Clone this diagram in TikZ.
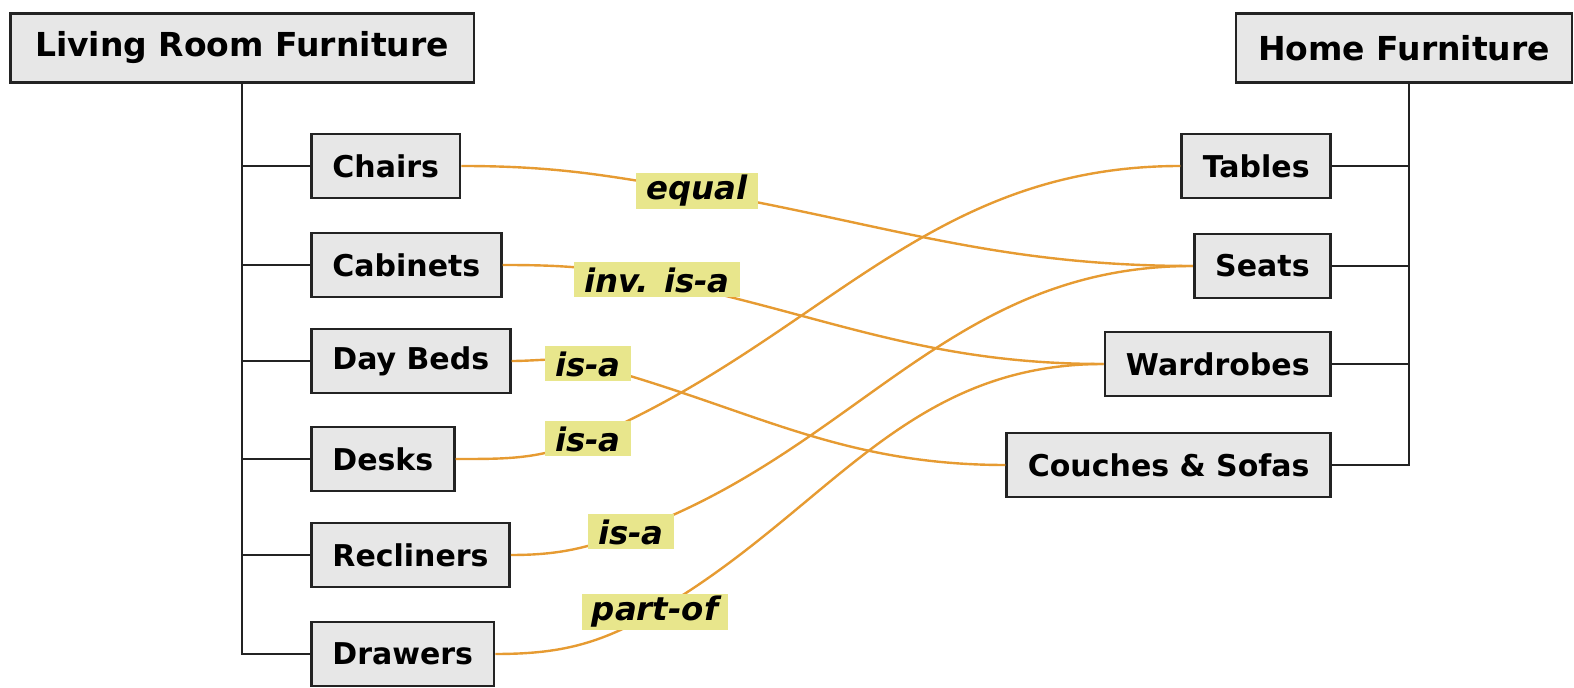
\documentclass[tikz,border=0pt]{standalone}
\usepackage{fontspec}
\setmainfont{DejaVu Sans}
\definecolor{boxfill}{RGB}{231,231,231}
\definecolor{boxline}{RGB}{35,35,35}
\definecolor{relline}{RGB}{230,155,50}
\definecolor{relfill}{RGB}{232,230,140}
\tikzset{
  topbox/.style={draw=boxline, fill=boxfill, line width=1.4pt, inner xsep=12.5pt, minimum height=34.5pt,
    font=\fontsize{16.5}{19}\selectfont\bfseries},
  leafbox/.style={draw=boxline, fill=boxfill, line width=1.4pt, inner xsep=10.5pt, minimum height=32pt,
    font=\fontsize{15}{18}\selectfont\bfseries},
  rellabel/.style={fill=relfill, inner xsep=5pt, inner ysep=1pt, minimum height=17.5pt,
    font=\fontsize{16.2}{18}\selectfont\bfseries\itshape},
  treeline/.style={draw=boxline, line width=1.4pt},
  relline/.style={draw=relline, line width=1.2pt},
}
\begin{document}
\begin{tikzpicture}[x=0.5pt,y=-0.5pt]
\useasboundingbox (0,0) rectangle (1574,688);
% top boxes
\node[topbox] (lrf) at (242,48) {Living Room Furniture};
\node[topbox, inner xsep=11pt] (hf) at (1404,48) {Home Furniture};
% left leaves
\node[leafbox, anchor=west] (chairs) at (310,166) {Chairs};
\node[leafbox, anchor=west] (cabinets) at (310,265) {Cabinets};
\node[leafbox, anchor=west] (daybeds) at (310,361) {Day Beds};
\node[leafbox, anchor=west] (desks) at (310,459) {Desks};
\node[leafbox, anchor=west] (recliners) at (310,555) {Recliners};
\node[leafbox, anchor=west] (drawers) at (310,654) {Drawers};
% right leaves
\node[leafbox, anchor=east] (tables) at (1332,166) {Tables};
\node[leafbox, anchor=east] (seats) at (1332,266) {Seats};
\node[leafbox, anchor=east] (wardrobes) at (1332,364) {Wardrobes};
\node[leafbox, anchor=east] (couches) at (1332,465) {Couches \& Sofas};
% tree lines
\coordinate (ltrunk) at (lrf.south);
\coordinate (rtrunk) at ([xshift=2.5pt]hf.south);
\draw[treeline] (ltrunk) |- (drawers.west);
\foreach \n in {chairs,cabinets,daybeds,desks,recliners}
  \draw[treeline] (ltrunk |- \n.west) -- (\n.west);
\draw[treeline] (rtrunk) |- (couches.east);
\foreach \n in {tables,seats,wardrobes}
  \draw[treeline] (rtrunk |- \n.east) -- (\n.east);
% label anchors
\coordinate (cEq) at (697,191);
\coordinate (cInv) at (657,280);
\coordinate (cIsa1) at (588,364);
\coordinate (cIsa2) at (588,439);
\coordinate (cIsa3) at (631,532);
\coordinate (cPart) at (655,612);
% relation lines
\draw[relline] (chairs.east) to[out=0,in=170] (cEq) to[out=-10,in=180] (seats.west);
\draw[relline] (cabinets.east) to[out=0,in=168] (cInv) to[out=-12,in=180] (wardrobes.west);
\draw[relline] (daybeds.east) to[out=0,in=165] (cIsa1) to[out=-15,in=180] (couches.west);
\draw[relline] (desks.east) to[out=0,in=203] (cIsa2) to[out=23,in=180] (tables.west);
\draw[relline] (recliners.east) to[out=0,in=200] (cIsa3) to[out=20,in=180] (seats.west);
\draw[relline] (drawers.east) to[out=0,in=210] (cPart) to[out=30,in=180] (wardrobes.west);
% labels
\node[rellabel] (lEq) at (cEq) {equal};
\node[rellabel] (lInv) at (cInv) {inv. is-a};
\node[rellabel] (lIsa1) at (cIsa1) {is-a};
\node[rellabel] (lIsa2) at (cIsa2) {is-a};
\node[rellabel] (lIsa3) at (cIsa3) {is-a};
\node[rellabel] (lPart) at (cPart) {part-of};
\end{tikzpicture}
\end{document}
